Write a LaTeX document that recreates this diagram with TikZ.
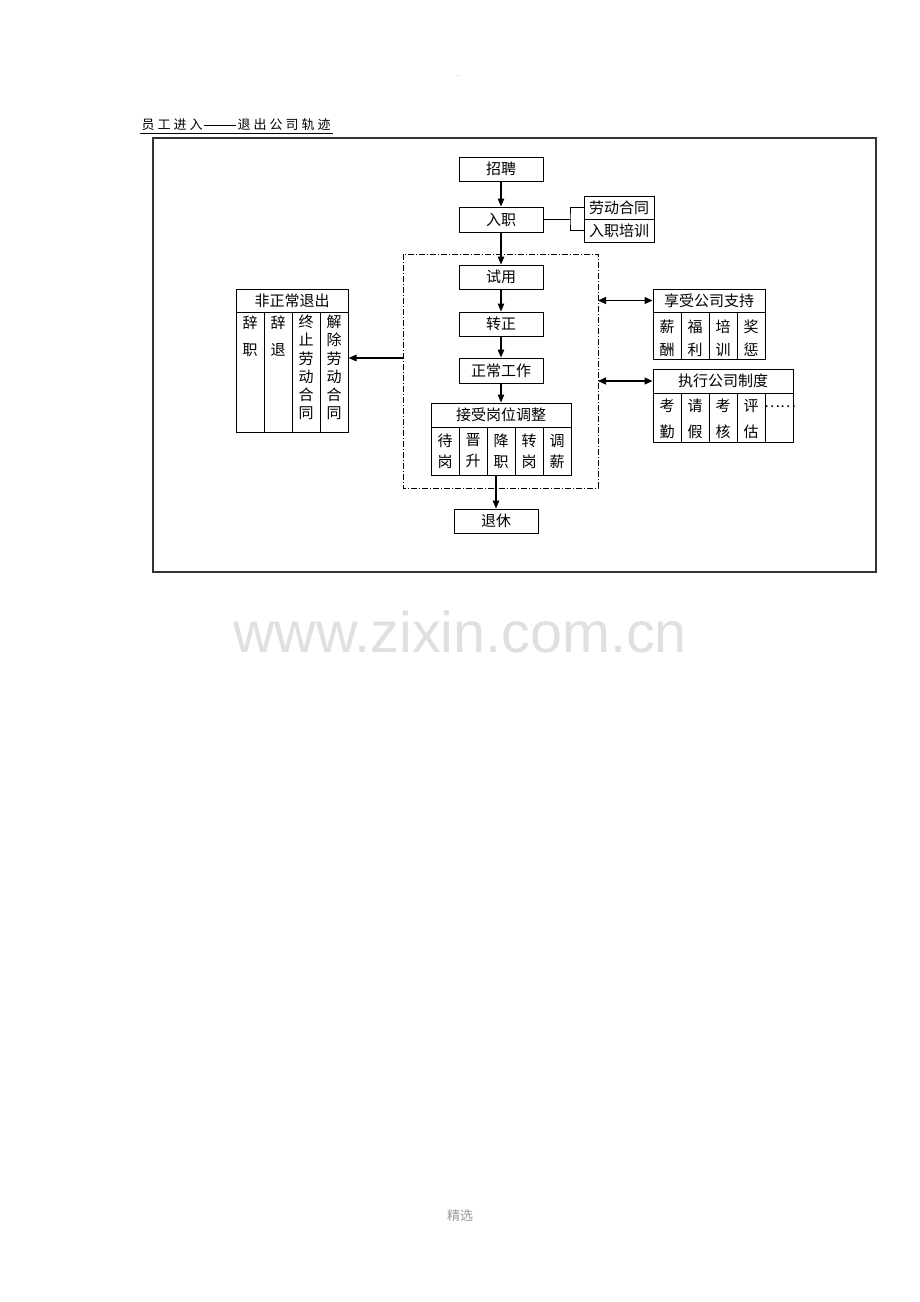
\documentclass[tikz,border=0pt]{standalone}
\usepackage{fontspec}
\setmainfont{Noto Sans CJK SC}
\newfontfamily\wmfont{Liberation Sans}
\usetikzlibrary{arrows.meta,calc}
\newcommand\ttlc[1]{\makebox[16pt]{#1}}
\begin{document}
\begin{tikzpicture}[x=1pt,y=-1pt,
  box/.style={draw, line width=1pt, inner sep=0pt, font=\fontsize{15}{18}\selectfont},
  txt/.style={inner sep=0pt, align=center},
  arr/.style={line width=1.2pt, -{Triangle[length=8pt,width=6.5pt]}},
  darr/.style={line width=1.2pt, {Triangle[length=8pt,width=7pt]}-{Triangle[length=8pt,width=7pt]}},
  conn/.style={line width=1pt}
]
\fill[white] (0,0) rectangle (920,1302);
\useasboundingbox (0,0) rectangle (920,1302);

% header dot, title
\node[txt, text=black!40, font=\fontsize{8}{8}\selectfont] (hdot) at (458,76) {.};
\node[txt, anchor=west, font=\fontsize{13}{13}\selectfont] (title) at (140,124.5)
  {\ttlc{员}\ttlc{工}\ttlc{进}\ttlc{入}\makebox[32pt]{\rule[0.3em]{32pt}{0.6pt}}\ttlc{退}\ttlc{出}\ttlc{公}\ttlc{司}\ttlc{轨}\ttlc{迹}};
\draw[line width=0.8pt] (140,133) -- (333,133);

% outer frame
\draw[line width=1.3pt, black!80] (153,138) rectangle (876,572);

% dash-dot region
\draw[line width=0.8pt, dash pattern=on 6pt off 2pt on 1pt off 2pt] (403,254) rectangle (598,488);

% main chain
\node[box, minimum width=84pt, minimum height=24pt] (zp) at (501,169) {招聘};
\node[box, minimum width=84pt, minimum height=25pt] (rz) at (501,219.5) {入职};
\node[box, minimum width=70pt, minimum height=23pt] (ht) at (619,207.5) {劳动合同};
\node[box, minimum width=70pt, minimum height=23pt] (px) at (619,230.5) {入职培训};
\node[box, minimum width=84pt, minimum height=24pt] (sy) at (501,277) {试用};
\node[box, minimum width=84pt, minimum height=24pt] (zz) at (501,324) {转正};
\node[box, minimum width=84pt, minimum height=25pt] (zc) at (501,370.5) {正常工作};
\node[box, minimum width=140pt, minimum height=24pt] (gw) at (501,415) {接受岗位调整};
\node[box, minimum width=84pt, minimum height=24pt] (tx) at (496,521) {退休};

% gangwei columns
\foreach \i/\x/\t in {1/445/待\\岗, 2/473/晋\\升, 3/501/降\\职, 4/529/转\\岗, 5/557/调\\薪}{
  \node[box, minimum width=28pt, minimum height=48pt] (g\i) at (\x,451) {};
  \node[txt, font=\fontsize{15}{21}\selectfont] at (\x,451) {\t};
}

\coordinate (br) at (570,219.5);
\draw[conn] (rz.east) -- (br);
\draw[conn] (ht.west) -| (br) |- (px.west);

\draw[arr] (zp) -- (rz);
\draw[arr] (rz) -- (sy);
\draw[arr] (sy) -- (zz);
\draw[arr] (zz) -- (zc);
\draw[arr] (zc) -- (gw);
\draw[arr] (g3.south -| tx.north) -- (tx.north);

% left box
\node[box, minimum width=112pt, minimum height=23pt] (fz) at (292,300.5) {非正常退出};
\foreach \i/\x in {1/250,2/278,3/306,4/334}{
  \node[box, minimum width=28pt, minimum height=120pt] (f\i) at (\x,372) {};
}
\node[txt, font=\fontsize{15}{27}\selectfont] at (250,336.5) {辞\\职};
\node[txt, font=\fontsize{15}{27}\selectfont] at (278,336.5) {辞\\退};
\node[txt, font=\fontsize{15}{18.3}\selectfont] at (306,367.5) {终\\止\\劳\\动\\合\\同};
\node[txt, font=\fontsize{15}{18.3}\selectfont] at (334,367.5) {解\\除\\劳\\动\\合\\同};
\coordinate (lfrom) at (403,358);
\draw[arr] (lfrom) -- (lfrom -| f4.east);

% right box 1
\node[box, minimum width=112pt, minimum height=23pt] (xs) at (709,300.5) {享受公司支持};
\foreach \i/\x/\t in {1/667/薪\\酬, 2/695/福\\利, 3/723/培\\训, 4/751/奖\\惩}{
  \node[box, minimum width=28pt, minimum height=47pt] (s\i) at (\x,335.5) {};
  \node[txt, font=\fontsize{15}{23}\selectfont] at (\x,338) {\t};
}
\coordinate (r1) at (598,300.5);
\draw[darr] (r1) -- (r1 -| xs.west);

% right box 2
\node[box, minimum width=140pt, minimum height=24pt] (zx) at (723,381) {执行公司制度};
\foreach \i/\x/\t in {1/667/考\\勤, 2/695/请\\假, 3/723/考\\核, 4/751/评\\估, 5/779/{}}{
  \node[box, minimum width=28pt, minimum height=49pt] (e\i) at (\x,417.5) {};
  \node[txt, font=\fontsize{15}{25.7}\selectfont] at (\x,419) {\t};
}
\node[txt, font=\fontsize{15}{15}\selectfont] at (780,407) {……};
\coordinate (r2) at (598,381);
\draw[darr] (r2) -- (r2 -| zx.west);

% watermark and footer
\node[txt, text=black!12, font=\wmfont\fontsize{57.5}{57.5}\selectfont] (wm) at (460,632) {www.zixin.com.cn};
\node[txt, text=black!40, font=\fontsize{13}{13}\selectfont] (ft) at (460,1216) {精选};
\end{tikzpicture}
\end{document}
